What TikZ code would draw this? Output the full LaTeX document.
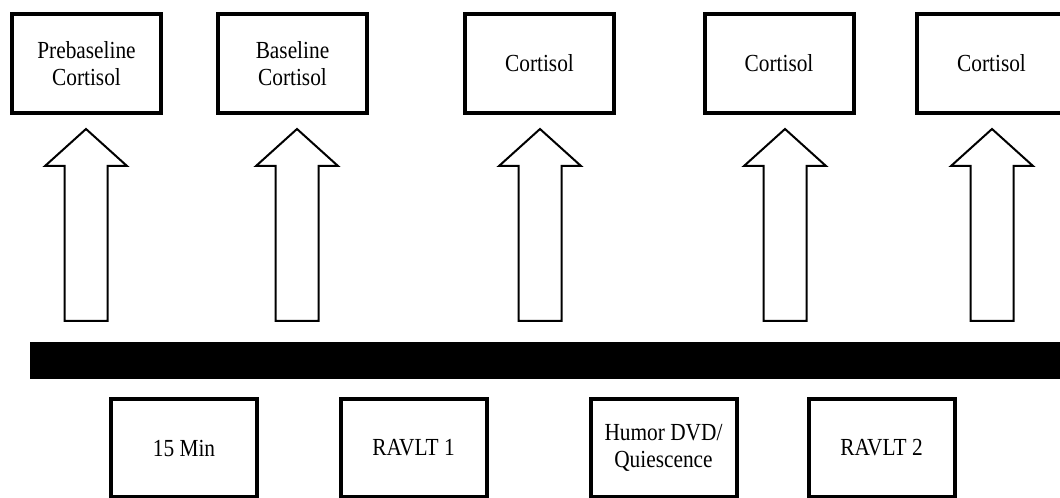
\documentclass[tikz,border=0pt]{standalone}
\usepackage{fontspec}
\setmainfont{Liberation Serif}[FakeStretch=0.87]
\begin{document}
\begin{tikzpicture}[x=0.75pt,y=-0.75pt,
  box/.style={draw=black, line width=3pt, fill=white, align=center,
    font=\fontsize{18.4}{20.5}\selectfont, inner sep=0pt},
  topbox/.style={box, minimum width=111.75pt, minimum height=74.25pt},
  lowbox/.style={box, minimum width=109.5pt, minimum height=73.5pt},
  uparrow/.pic={
    \draw[line width=1.5pt, line join=miter, fill=white]
      (0,129) -- (41,166) -- (21.5,166) -- (21.5,321) -- (-21.5,321)
      -- (-21.5,166) -- (-41,166) -- cycle;
  }]
\useasboundingbox (0,0) rectangle (1060,498);
\clip (0,0) rectangle (1060,498);

% sampling points
\node[topbox] (pre)  at (86.5,63.5)  {Prebaseline\\Cortisol};
\node[topbox] (base) at (292.5,63.5) {Baseline\\Cortisol};
\node[topbox] (c1)   at (539.5,63.5) {Cortisol};
\node[topbox] (c2)   at (779,63.5)   {Cortisol};
\node[topbox] (c3)   at (991.5,63.5) {Cortisol};

% block arrows rising from the timeline
\pic at (86,0)  {uparrow};
\pic at (297,0) {uparrow};
\pic at (540,0) {uparrow};
\pic at (785,0) {uparrow};
\pic at (992,0) {uparrow};

% timeline bar
\fill[black] (30,342) rectangle (1060,379);

% session phases
\node[lowbox] (rest)  at (184,448)   {15 Min};
\node[lowbox] (rav1)  at (413.5,448) {RAVLT 1};
\node[lowbox] (humor) at (663.5,448) {Humor DVD/\\Quiescence};
\node[lowbox] (rav2)  at (881.5,448) {RAVLT 2};
\end{tikzpicture}
\end{document}
